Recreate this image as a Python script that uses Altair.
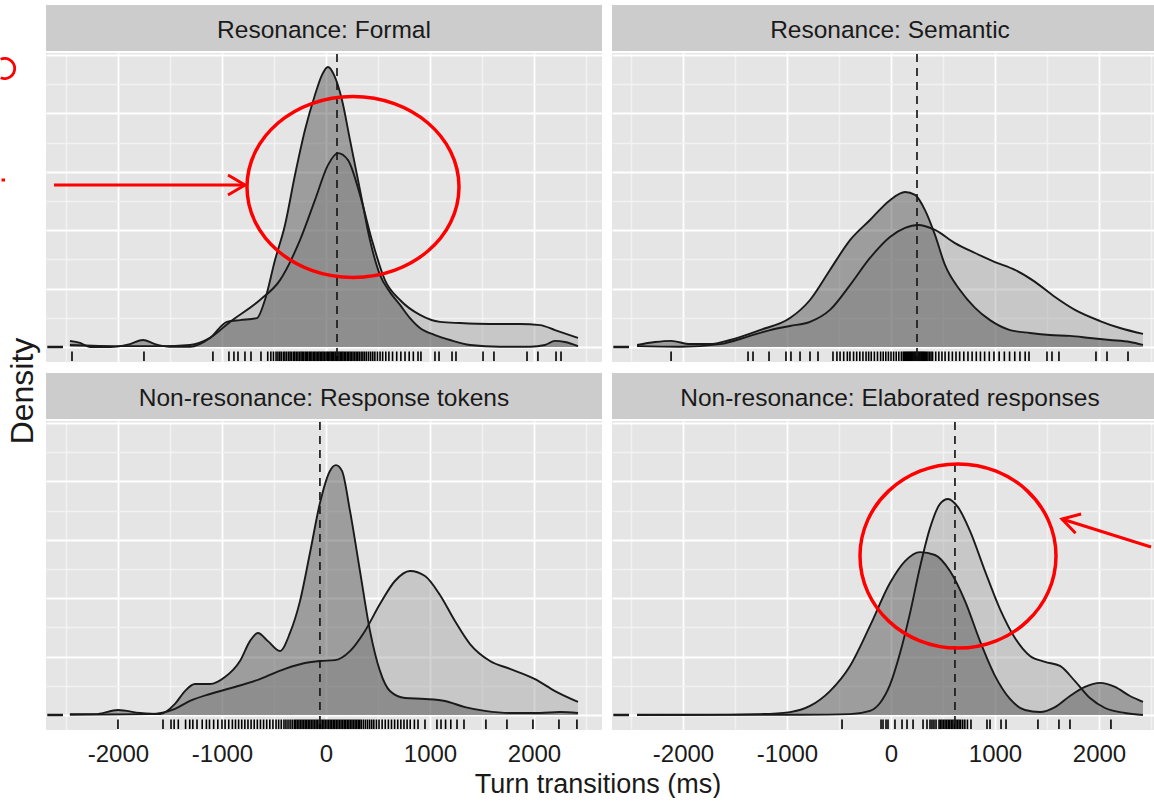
import altair as alt
import pandas as pd

# ---------------------------------------------------------------------------
# Turn-transition densities (x: ms, y: density in units of 1e-4 per ms)
# "dark" and "light" are the two overlaid groups in every panel.
# ---------------------------------------------------------------------------
formal_dark_ms = [-2462, -2365, -2269, -2077, -1885, -1760, -1644, -1500, -1308, -1115,
                  -952, -827, -663, -587, -490, -394, -298, -202, -106, -38, 19, 77, 154,
                  231, 327, 423, 519, 615, 712, 808, 904, 1048, 1192, 1385, 1673, 1962,
                  2106, 2202, 2298, 2423]
formal_dark_dens = [0.21, 0.14, 0.00, 0.00, 0.10, 0.24, 0.10, 0.01, 0.01, 0.31,
                    0.86, 0.92, 0.99, 1.61, 2.98, 4.18, 5.89, 7.43, 8.63, 9.32, 9.59, 9.32, 8.46,
                    7.09, 5.38, 3.66, 2.47, 1.88, 1.44, 0.99, 0.65, 0.41, 0.24, 0.07, 0.01, 0.01,
                    0.07, 0.21, 0.17, 0.03]
formal_light_ms = [-2462, -1981, -1596, -1308, -1115, -923, -635, -442, -250, -106, 19, 115,
                   212, 327, 442, 567, 712, 904, 1096, 1288, 1577, 1865, 2058, 2202, 2423]
formal_light_dens = [0.07, 0.03, 0.03, 0.07, 0.31, 0.86, 1.61, 2.29, 3.66, 5.03, 6.23, 6.64,
                     6.40, 5.21, 3.66, 2.29, 1.61, 1.10, 0.86, 0.82, 0.79, 0.79, 0.75, 0.58, 0.31]

semantic_dark_ms = [-2442, -2269, -2115, -1933, -1740, -1548, -1260, -971, -779, -587, -394,
                    -202, -10, 135, 231, 327, 423, 519, 663, 808, 952, 1144, 1337, 1529, 1721,
                    1913, 2106, 2298, 2423]
semantic_dark_dens = [0.07, 0.17, 0.21, 0.10, 0.10, 0.24, 0.58, 0.99, 1.61, 2.64, 3.66,
                      4.35, 5.03, 5.31, 5.21, 4.69, 3.84, 2.81, 1.95, 1.34, 0.92, 0.58, 0.48, 0.41,
                      0.38, 0.31, 0.24, 0.17, 0.07]
semantic_light_ms = [-2442, -2029, -1644, -1356, -1163, -971, -779, -587, -394, -202, -10,
                     135, 260, 423, 615, 808, 1000, 1192, 1385, 1577, 1769, 2010, 2202, 2423]
semantic_light_dens = [0.03, 0.01, 0.10, 0.38, 0.58, 0.72, 0.86, 1.27, 2.12, 3.05, 3.77,
                       4.08, 4.18, 4.01, 3.56, 3.22, 2.91, 2.64, 2.23, 1.71, 1.27, 0.89, 0.65, 0.45]

tokens_dark_ms = [-2462, -2221, -2000, -1788, -1596, -1452, -1356, -1260, -1115, -971, -827,
                  -731, -654, -558, -442, -346, -250, -154, -58, 38, 96, 154, 231, 327, 423,
                  519, 615, 760, 952, 1144, 1337, 1529, 1769, 2058, 2250, 2423]
tokens_dark_dens = [0.03, 0.03, 0.17, 0.07, 0.03, 0.38, 0.82, 1.06, 1.06, 1.30, 1.85,
                    2.53, 2.81, 2.53, 2.19, 2.81, 3.90, 5.55, 7.26, 8.36, 8.56, 8.36, 6.99, 4.93,
                    2.88, 1.51, 0.82, 0.58, 0.55, 0.48, 0.27, 0.14, 0.07, 0.07, 0.10, 0.07]
tokens_light_ms = [-2462, -1692, -1452, -1308, -1115, -875, -635, -394, -202, -58, 87, 231,
                   375, 519, 663, 808, 952, 1096, 1240, 1385, 1577, 1769, 2010, 2202, 2423]
tokens_light_dens = [0.01, 0.03, 0.21, 0.48, 0.72, 0.96, 1.23, 1.58, 1.78, 1.85, 1.88, 2.19,
                     2.88, 3.80, 4.59, 4.93, 4.76, 4.11, 3.22, 2.43, 1.85, 1.58, 1.23, 0.82, 0.45]

elaborated_dark_ms = [-2442, -1837, -1260, -971, -779, -587, -394, -202, -10, 135, 279, 423,
                      567, 712, 856, 1000, 1144, 1288, 1433, 1577, 1721, 1865, 2010, 2154,
                      2298, 2423]
elaborated_dark_dens = [0.01, 0.01, 0.03, 0.10, 0.31, 0.82, 1.68, 3.05, 4.52, 5.27, 5.58,
                        5.48, 4.93, 3.90, 2.53, 1.34, 0.55, 0.17, 0.10, 0.27, 0.65, 0.96, 1.10,
                        0.96, 0.65, 0.45]
elaborated_light_ms = [-2442, -875, -394, -202, -106, -10, 87, 183, 279, 375, 471, 548, 644,
                       760, 904, 1048, 1192, 1337, 1481, 1625, 1769, 1913, 2058, 2250, 2423]
elaborated_light_dens = [0.00, 0.01, 0.03, 0.14, 0.41, 1.03, 2.12, 3.49, 5.07, 6.40, 7.23,
                         7.40, 7.12, 6.30, 4.93, 3.63, 2.64, 2.02, 1.82, 1.68, 1.16, 0.58, 0.24,
                         0.07, 0.00]

# Condition means (dashed lines)
means = {"formal": 106, "semantic": 250, "tokens": -58, "elaborated": 615}

# Individual observations (rug)
formal_rug = [-2442, -1750, -1087, -933, -885, -846, -779, -721, -625, -560, -530, -505, -480,
              -462, -445, -430, -410, -395, -378, -360, -345, -330, -312, -300, -285, -270,
              -255, -240, -228, -215, -200, -188, -175, -160, -148, -135, -120, -108, -95,
              -80, -68, -55, -40, -28, -15, 0, 12, 25, 38, 50, 62, 75, 88, 100, 112, 125, 138,
              150, 163, 176, 190, 205, 218, 232, 245, 260, 275, 290, 305, 320, 338, 355, 372,
              390, 410, 430, 450, 470, 495, 520, 545, 575, 605, 640, 680, 720, 760, 800, 840,
              885, 913, 1048, 1087, 1212, 1250, 1510, 1615, 1933, 2038, 2212, 2260]
semantic_rug = [-2115, -1375, -1327, -1173, -1010, -962, -875, -779, -702, -558, -520, -490,
                -455, -420, -395, -360, -330, -300, -270, -240, -215, -190, -160, -130, -100,
                -75, -50, -25, 0, 25, 50, 75, 100, 118, 130, 140, 150, 160, 170, 180, 190, 200,
                210, 220, 230, 240, 250, 260, 270, 280, 290, 300, 310, 320, 330, 342, 355, 370,
                385, 400, 430, 460, 490, 520, 555, 590, 625, 660, 700, 740, 780, 820, 860, 900,
                945, 990, 1040, 1090, 1140, 1190, 1240, 1290, 1327, 1500, 1548, 1615, 1971,
                2077, 2279]
tokens_rug = [-2000, -1567, -1490, -1460, -1420, -1350, -1310, -1280, -1240, -1190, -1150,
              -1120, -1080, -1040, -1000, -970, -935, -900, -870, -840, -810, -780, -750, -720,
              -690, -660, -630, -600, -570, -540, -510, -480, -455, -430, -404, -385, -365,
              -345, -325, -305, -290, -275, -260, -245, -230, -215, -200, -185, -170, -155,
              -140, -125, -110, -95, -80, -65, -50, -35, -20, -5, 10, 25, 40, 55, 70, 85, 100,
              115, 130, 145, 160, 175, 190, 205, 220, 235, 250, 265, 280, 295, 310, 325, 340,
              360, 380, 400, 420, 440, 460, 485, 510, 540, 570, 600, 630, 660, 690, 720, 750,
              780, 810, 850, 885, 952, 1067, 1106, 1150, 1200, 1260, 1327, 1538, 1740, 1990,
              2240, 2413]
elaborated_rug = [-471, -96, -77, -48, -29, 38, 106, 154, 212, 308, 346, 375, 394, 413, 433,
                  462, 475, 490, 505, 520, 535, 550, 565, 580, 595, 610, 625, 640, 655, 670,
                  690, 710, 735, 769, 923, 952, 1058, 1106, 1413, 1615, 1721, 2115]

strip_titles = {
    "formal": "Resonance: Formal",
    "semantic": "Resonance: Semantic",
    "tokens": "Non-resonance: Response tokens",
    "elaborated": "Non-resonance: Elaborated responses",
}

# ---------------------------------------------------------------------------
# Styling
# ---------------------------------------------------------------------------
FONT = "Liberation Sans, Arial, sans-serif"
INK = "#1a1a1a"
RED = "#ff0000"
PANEL_H = 309
STRIP_H = 46
W_LEFT, W_RIGHT = 556, 542
X_DOMAIN_LEFT = [-2692, 2654]
X_DOMAIN_RIGHT = [-2683, 2529]
Y_DOMAIN = [-0.514, 10.07]
GRID_X = list(range(-2500, 2501, 500))
GRID_Y = list(range(0, 11))
LINE_W = 1.9

ELLIPSE_TL = "M -1 0 A 1 0.854 0 1 0 1 0 A 1 0.854 0 1 0 -1 0"
ELLIPSE_BR = "M -1 0 A 1 0.94 0 1 0 1 0 A 1 0.94 0 1 0 -1 0"
CHEVRON = "M -1.7 -1 L 0 0 L -1.7 1"


def frame(ms, dens):
    return pd.DataFrame({"ms": ms, "density": dens})


def encodings(domain, show_labels):
    x_axis = dict(
        values=GRID_X,
        grid=True,
        gridColor={"condition": {"test": "datum.value % 1000 === 0", "value": "#ffffff"},
                   "value": "#f2f2f2"},
        gridWidth={"condition": {"test": "datum.value % 1000 === 0", "value": 1.8},
                   "value": 1.4},
        ticks=False,
        tickSize=0,
        domain=False,
        labels=show_labels,
        title=None,
    )
    if show_labels:
        x_axis.update(labelExpr="datum.value % 1000 === 0 ? '' + datum.value : ''",
                      labelFont=FONT, labelFontSize=24, labelColor=INK,
                      labelBaseline="alphabetic", labelPadding=31, labelOverlap=False)
    else:
        x_axis.update(minExtent=0, maxExtent=0)
    x = alt.X("ms:Q", scale=alt.Scale(domain=domain, nice=False, zero=False),
              axis=alt.Axis(**x_axis))
    y = alt.Y("density:Q", scale=alt.Scale(domain=Y_DOMAIN, nice=False, zero=False),
              axis=alt.Axis(values=GRID_Y, grid=True,
                            gridColor={"condition": {"test": "datum.value % 2 === 0",
                                                     "value": "#ffffff"},
                                       "value": "#f2f2f2"},
                            gridWidth={"condition": {"test": "datum.value % 2 === 0",
                                                     "value": 1.8},
                                       "value": 1.4},
                            ticks=False, tickSize=0, domain=False, labels=False,
                            minExtent=0, maxExtent=0, title=None))
    return x, y


def panel(key, dark, light, rug, domain, width, show_labels, extras=()):
    x, y = encodings(domain, show_labels)
    dark_df, light_df = frame(*dark), frame(*light)
    light_area = alt.Chart(light_df).mark_area(
        interpolate="monotone", color="#aaaaaa", opacity=0.5
    ).encode(x=x, y=y, y2=alt.datum(0))
    dark_area = alt.Chart(dark_df).mark_area(
        interpolate="monotone", color="#555555", opacity=0.5
    ).encode(x=x, y=y, y2=alt.datum(0))
    light_line = alt.Chart(light_df).mark_line(
        interpolate="monotone", color=INK, strokeWidth=LINE_W
    ).encode(x=x, y=y)
    dark_line = alt.Chart(dark_df).mark_line(
        interpolate="monotone", color=INK, strokeWidth=LINE_W
    ).encode(x=x, y=y)
    rug_marks = alt.Chart(pd.DataFrame({"ms": rug})).mark_rule(
        color="#000000", strokeWidth=1.6
    ).encode(x=x, y=alt.value(PANEL_H - 10.5), y2=alt.value(PANEL_H - 1))
    mean_line = alt.Chart(pd.DataFrame({"ms": [means[key]]})).mark_rule(
        color=INK, strokeWidth=1.7, strokeDash=[8, 6]
    ).encode(x=x, y=alt.value(1), y2=alt.value(PANEL_H - 1))
    zero_tick = alt.Chart(pd.DataFrame({"density": [0]})).mark_rule(
        color=INK, strokeWidth=2.5
    ).encode(y=y, x=alt.value(1.3), x2=alt.value(17))
    layers = [light_area, dark_area, light_line, dark_line, rug_marks, mean_line, zero_tick]
    layers += list(extras)
    body = alt.layer(*layers).properties(
        width=width, height=PANEL_H, view=alt.ViewBackground(fill="#e5e5e5")
    )
    strip = alt.Chart(pd.DataFrame({"label": [strip_titles[key]]})).mark_text(
        font=FONT, fontSize=24.5, color=INK, baseline="alphabetic", align="center"
    ).encode(text="label:N", x=alt.value(278), y=alt.value(33)).properties(
        width=width, height=STRIP_H, view=alt.ViewBackground(fill="#cccccc")
    )
    return alt.vconcat(strip, body, spacing=2)


def ring(path, size, px, py):
    return alt.Chart(pd.DataFrame({"k": [0]})).mark_point(
        shape=path, size=size, filled=False, color=RED, strokeWidth=3.5, opacity=1
    ).encode(x=alt.value(px), y=alt.value(py))


def arrow(x0, y0, x1, y1, angle):
    shaft = alt.Chart(pd.DataFrame({"k": [0]})).mark_rule(color=RED, strokeWidth=3).encode(
        x=alt.value(x0), y=alt.value(y0), x2=alt.value(x1), y2=alt.value(y1)
    )
    head = alt.Chart(pd.DataFrame({"k": [0]})).mark_point(
        shape=CHEVRON, size=400, filled=False, color=RED, strokeWidth=3, opacity=1,
        angle=angle
    ).encode(x=alt.value(x1), y=alt.value(y1))
    return [shaft, head]


formal = panel("formal", (formal_dark_ms, formal_dark_dens),
               (formal_light_ms, formal_light_dens), formal_rug, X_DOMAIN_LEFT, W_LEFT,
               False, extras=[ring(ELLIPSE_TL, 44944, 307, 134)] +
               arrow(8, 132, 199, 132, 0))
semantic = panel("semantic", (semantic_dark_ms, semantic_dark_dens),
                 (semantic_light_ms, semantic_light_dens), semantic_rug, X_DOMAIN_RIGHT,
                 W_RIGHT, False)
tokens = panel("tokens", (tokens_dark_ms, tokens_dark_dens),
               (tokens_light_ms, tokens_light_dens), tokens_rug, X_DOMAIN_LEFT, W_LEFT,
               True)
elaborated = panel("elaborated", (elaborated_dark_ms, elaborated_dark_dens),
                   (elaborated_light_ms, elaborated_light_dens), elaborated_rug,
                   X_DOMAIN_RIGHT, W_RIGHT, True,
                   extras=[ring(ELLIPSE_BR, 38416, 346, 135)] +
                   arrow(539, 126, 450, 98, 196))

grid = alt.vconcat(
    alt.hconcat(formal, semantic, spacing=10),
    alt.hconcat(tokens, elaborated, spacing=10),
    spacing=11,
)

# Left margin: shared y title plus the red note fragments at the edge
density_title = alt.Chart(pd.DataFrame({"t": ["Density"]})).mark_text(
    font=FONT, fontSize=32, color=INK, angle=270, baseline="alphabetic", align="center"
).encode(text="t:N", x=alt.value(33), y=alt.value(386))
note_ring = alt.Chart(pd.DataFrame({"k": [0]})).mark_arc(
    color=RED, radius=11.5, radius2=8.7, theta=5.88, theta2=9.82
).encode(x=alt.value(4.6), y=alt.value(63.5))
note_dash = alt.Chart(pd.DataFrame({"k": [0]})).mark_rule(color=RED, strokeWidth=3).encode(
    x=alt.value(1.5), x2=alt.value(5), y=alt.value(175)
)
left_margin = alt.layer(density_title, note_ring, note_dash).properties(
    width=46, height=725
)

chart = alt.hconcat(left_margin, grid, spacing=0).properties(
    padding={"left": 0, "top": 5, "right": 0, "bottom": 0},
    background="white",
    title=alt.TitleParams(
        text="Turn transitions (ms)", orient="bottom", anchor="middle", dx=21, offset=6,
        font=FONT, fontSize=27, fontWeight="normal", color=INK
    ),
).configure_view(strokeWidth=0)

chart.save("out.html", embed_options={"renderer": "svg", "actions": False})
